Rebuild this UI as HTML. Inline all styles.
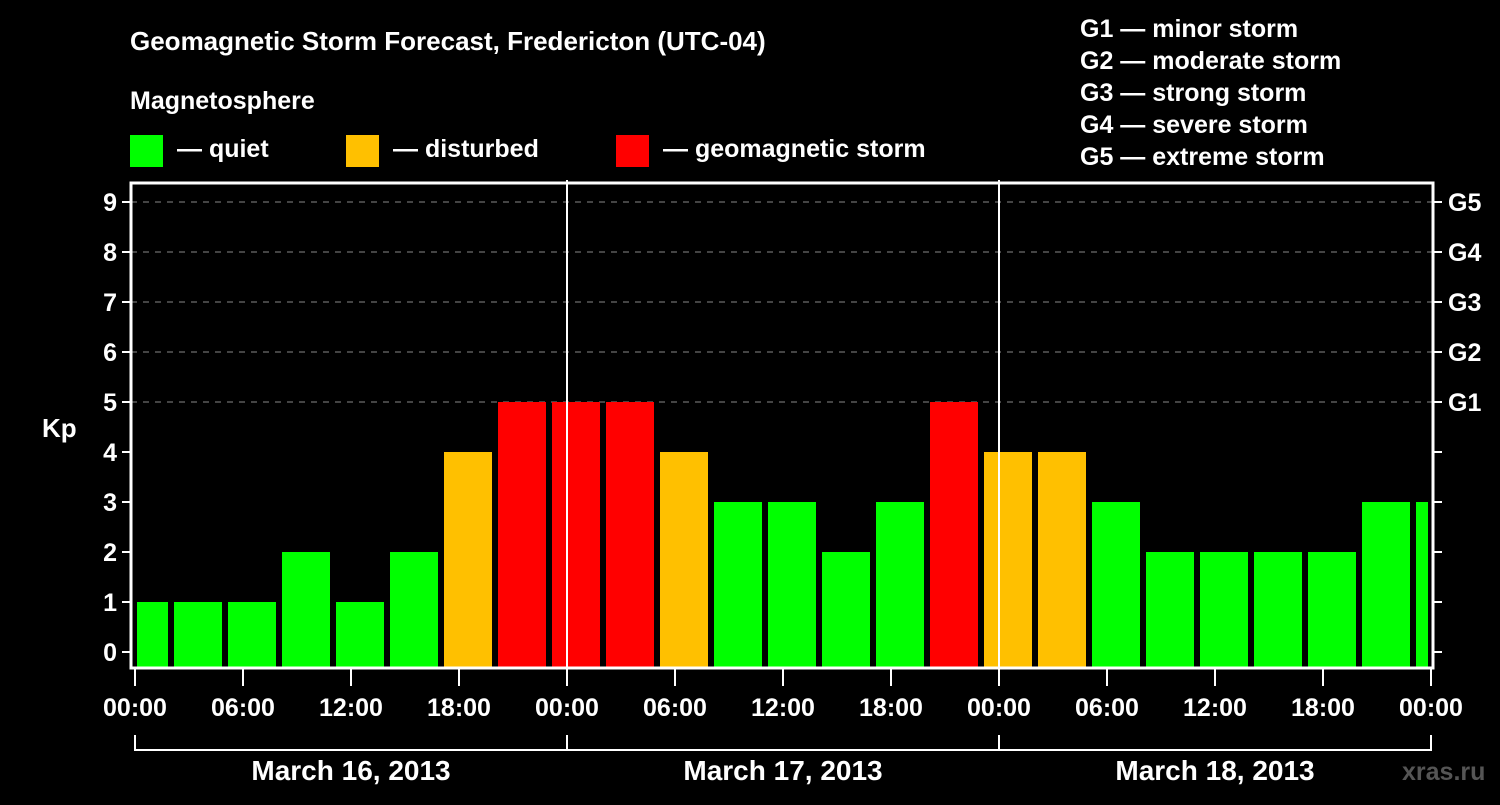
<!DOCTYPE html>
<html><head><meta charset="utf-8"><style>
body{margin:0;background:#000;width:1500px;height:800px;overflow:hidden}
svg text{font-family:"Liberation Sans",sans-serif;font-weight:bold;fill:#fff}
</style></head><body>
<svg id="c" width="1500" height="800" xmlns="http://www.w3.org/2000/svg">
<text x="130" y="50" font-size="26">Geomagnetic Storm Forecast, Fredericton (UTC-04)</text>
<text x="130" y="109" font-size="25">Magnetosphere</text>
<g><rect x="130" y="135" width="33" height="32" fill="#00ff00"/><text x="177" y="157" font-size="25">— quiet</text></g>
<g><rect x="346" y="135" width="33" height="32" fill="#ffc000"/><text x="393" y="157" font-size="25">— disturbed</text></g>
<g><rect x="616" y="135" width="33" height="32" fill="#ff0000"/><text x="663" y="157" font-size="25">— geomagnetic storm</text></g>
<g font-size="25">
<text x="1080" y="37">G1 — minor storm</text><text x="1080" y="69">G2 — moderate storm</text><text x="1080" y="101">G3 — strong storm</text><text x="1080" y="133">G4 — severe storm</text><text x="1080" y="165">G5 — extreme storm</text></g>
<g id="grid"></g><g id="bars"></g><g id="axes"></g>
<text x="42" y="437" font-size="26">Kp</text>
<text x="1402" y="780" font-size="25" fill="#555" style="fill:#555">xras.ru</text>
</svg>
<script>
const kpValues=[1,1,1,2,1,2,4,5,5,5,4,3,3,2,3,5,4,4,3,2,2,2,2,3,3];
const yTicks=[0,1,2,3,4,5,6,7,8,9];
const gLabels=["G1","G2","G3","G4","G5"];
const xTickLabels=["00:00","06:00","12:00","18:00","00:00","06:00","12:00","18:00","00:00","06:00","12:00","18:00","00:00"];
const dayLabels=["March 16, 2013","March 17, 2013","March 18, 2013"];
const NS="http://www.w3.org/2000/svg";
const L=131,R=1433,T=183,B=668;
const X0=135,PH=18; // px per hour
const y=v=>652-50*v;
const x=h=>X0+PH*h;
function mk(p,t,a){const e=document.createElementNS(NS,t);for(const k in a)e.setAttribute(k,a[k]);p.appendChild(e);return e;}
const grid=document.getElementById('grid'),bars=document.getElementById('bars'),axes=document.getElementById('axes');
yTicks.forEach(v=>{
 if(v>=5){const g=mk(grid,'line',{x1:L,x2:R,y1:y(v),y2:y(v),stroke:'#888','stroke-dasharray':'6,6','stroke-width':1});
 
 }
 const t=mk(axes,'line',{x1:122,x2:L,y1:y(v),y2:y(v),stroke:'#fff','stroke-width':2});
 
 
 const t2=mk(axes,'line',{x1:R,x2:R+9,y1:y(v),y2:y(v),stroke:'#fff','stroke-width':2});
 
 
 const lb=mk(axes,'text',{x:117,y:y(v)+9,'font-size':25,'text-anchor':'end'});lb.textContent=v;
 
 
});
gLabels.forEach((g,i)=>{const lb=mk(axes,'text',{x:1448,y:y(5+i)+9,'font-size':25});lb.textContent=g;
 
 });
kpValues.forEach((v,i)=>{
 const c=x(0.5+3*i);let x1=Math.max(c-24,L+6),x2=Math.min(c+24,1428);
 const col=v>=5?'#ff0000':v>=4?'#ffc000':'#00ff00';
 const r=mk(bars,'rect',{x:x1,y:y(v),width:x2-x1,height:B-y(v),fill:col});
 
 
});
[24,48].forEach(h=>{const l=mk(axes,'line',{x1:x(h),x2:x(h),y1:180,y2:B,stroke:'#fff','stroke-width':2});
 
 });
const fr=mk(axes,'rect',{x:L,y:T,width:R-L,height:B-T,fill:'none',stroke:'#fff','stroke-width':3});


xTickLabels.forEach((s,i)=>{const h=6*i;
 const t=mk(axes,'line',{x1:x(h),x2:x(h),y1:B,y2:686,stroke:'#fff','stroke-width':2});
 
 
 const lb=mk(axes,'text',{x:x(h),y:716,'font-size':25,'text-anchor':'middle'});lb.textContent=s;
 
 });
const br=mk(axes,'path',{d:`M${x(0)},735V750H${x(72)}V735M${x(24)},735V750M${x(48)},735V750`,stroke:'#fff','stroke-width':2,fill:'none'});


dayLabels.forEach((d,i)=>{const lb=mk(axes,'text',{x:x(24*i+12),y:780,'font-size':28,'text-anchor':'middle'});lb.textContent=d;
 
 });
</script>
</body></html>
